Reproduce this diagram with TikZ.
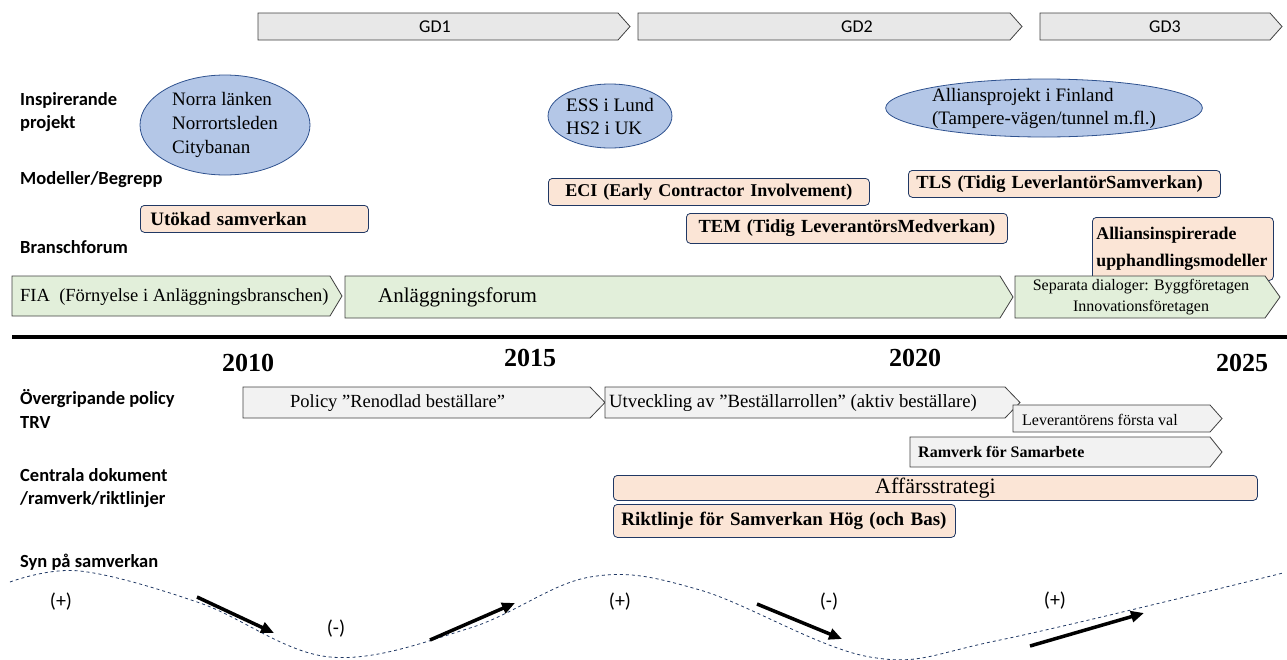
\documentclass[tikz,border=0pt]{standalone}
\usepackage{fontspec}
\setmainfont{Liberation Serif}
\newfontfamily\calibri{Carlito}
\usetikzlibrary{arrows.meta,shapes.geometric}

\definecolor{gdgray}{HTML}{E8E8E8}
\definecolor{polgray}{HTML}{F2F2F2}
\definecolor{ellblue}{HTML}{B4C7E7}
\definecolor{ellline}{HTML}{2F528F}
\definecolor{peach}{HTML}{FBE5D6}
\definecolor{mint}{HTML}{E2EFDA}
\definecolor{boxline}{HTML}{203864}
\definecolor{chevline}{HTML}{404040}

% chevron outline: x1, y1, x2, y2, tip length, fill
\newcommand{\chevbox}[6]{%
  \draw[fill=#6, draw=chevline, line width=0.8pt]
    (#1,#2) -- (#3,#2) -- (#3+#5,{(#2+#4)/2}) -- (#3,#4) -- (#1,#4) -- cycle;}

\begin{document}
\begin{tikzpicture}[x=1pt,y=-1pt,
  lbl/.style={font=\calibri\bfseries\fontsize{18.5}{23.5}\selectfont, anchor=west, align=left, inner sep=0pt},
  gdlbl/.style={font=\calibri\fontsize{18}{20}\selectfont},
  proj/.style={ellipse, draw=ellline, fill=ellblue, line width=0.8pt, inner sep=0pt,
    font=\fontsize{19}{23}\selectfont, align=left},
  model/.style={draw=boxline, fill=peach, rounded corners=4pt, line width=0.8pt,
    font=\bfseries\fontsize{18.5}{22}\selectfont, inner sep=0pt, anchor=north west},
  year/.style={font=\bfseries\fontsize{26}{28}\selectfont},
  chevtxt/.style={anchor=west, inner sep=0pt},
  sign/.style={font=\calibri\fontsize{20}{22}\selectfont},
  wave/.style={draw=boxline, dashed, line width=0.8pt},
  trend/.style={-{Triangle[length=13pt,width=11pt]}, line width=3.5pt}]
\useasboundingbox (0,0) rectangle (1287,659);

% phases
\chevbox{258}{13}{618}{40}{12}{gdgray}
\chevbox{638}{13}{1010}{40}{12}{gdgray}
\chevbox{1040}{13}{1270}{40}{12}{gdgray}
\node[gdlbl] (gd1) at (435,27) {GD1};
\node[gdlbl] (gd2) at (857,27) {GD2};
\node[gdlbl] (gd3) at (1165,27) {GD3};

% row labels
\node[lbl] (lproj) at (20,112) {Inspirerande\\projekt};
\node[lbl] (lmod) at (20,180) {Modeller/Begrepp};
\node[lbl] (lbransch) at (20,247) {Branschforum};
\node[lbl] (lpolicy) at (20,409) {Övergripande policy\\TRV};
\node[lbl] (ldok) at (20,488) {Centrala dokument\\/ramverk/riktlinjer};
\node[lbl] (lsyn) at (20,562) {Syn på samverkan};

% inspiring projects
\node[proj, minimum width=170, minimum height=100] (norra) at (225,125)
  {Norra länken\\[1pt]Norrortsleden\\[1pt]Citybanan};
\node[proj, minimum width=92, minimum height=64] (ess) at (610,116)
  {ESS i Lund\\HS2 i UK};
\node[proj, minimum width=194, minimum height=58] (allians) at (1044,108)
  {Alliansprojekt i Finland\\(Tampere-vägen/tunnel m.fl.)};

% models
\node[model, minimum width=228, minimum height=27, text width=208, align=left,
  font=\bfseries\fontsize{19}{22}\selectfont] (utokad) at (140,205) {Utökad samverkan};
\node[model, minimum width=321, minimum height=27, text width=310, align=center,
  font=\bfseries\fontsize{18}{22}\selectfont] (eci) at (548,178) {ECI (Early Contractor Involvement)};
\node[model, minimum width=321, minimum height=30, text width=310, align=center] (tem) at (686,213) {TEM (Tidig LeverantörsMedverkan)};
\node[model, minimum width=312, minimum height=27, text width=296, align=left] (tls) at (908,170) {TLS (Tidig LeverlantörSamverkan)};
\node[model, minimum width=181, minimum height=63, text width=173, align=left,
  font=\bfseries\fontsize{17.8}{27}\selectfont] (allmod) at (1092,217) {Alliansinspirerade\\upphandlingsmodeller};

% branch forums
\chevbox{12}{276}{330}{316}{12}{mint}
\chevbox{345}{276}{1000}{318}{13}{mint}
\chevbox{1015}{276}{1265}{318}{15}{mint}
\node[chevtxt, font=\fontsize{18.5}{20}\selectfont] (fia) at (20,297) {FIA\ \ (Förnyelse i Anläggningsbranschen)};
\node[chevtxt, font=\fontsize{21}{24}\selectfont] (forum) at (378,297) {Anläggningsforum};
\node[font=\fontsize{16}{21}\selectfont, align=center, inner sep=0pt] (dialog) at (1141,297)
  {Separata dialoger: Byggföretagen\\Innovationsföretagen};

% timeline
\coordinate (tl0) at (12,337);
\coordinate (tl1) at (1287,337);
\draw[line width=4pt] (tl0) -- (tl1);
\node[year] (y2010) at (248,363) {2010};
\node[year] (y2015) at (530,358) {2015};
\node[year] (y2020) at (915,358) {2020};
\node[year] (y2025) at (1242,363) {2025};

% policy
\chevbox{243}{387}{590}{418}{15}{polgray}
\chevbox{605}{387}{1005}{418}{15}{polgray}
\chevbox{1013}{405}{1210}{432}{12}{polgray}
\chevbox{910}{437}{1210}{467}{12}{polgray}
\node[chevtxt, font=\fontsize{18.5}{22}\selectfont] (renodlad) at (290,403) {Policy ”Renodlad beställare”};
\node[chevtxt, font=\fontsize{18.7}{20}\selectfont] (utveckling) at (609,403) {Utveckling av ”Beställarrollen” (aktiv beställare)};
\node[chevtxt, font=\fontsize{16}{18}\selectfont] (levval) at (1022,420) {Leverantörens första val};
\node[chevtxt, font=\bfseries\fontsize{16}{18}\selectfont] (ramverk) at (918,452) {Ramverk för Samarbete};

% documents
\node[model, minimum width=644, minimum height=25, text width=630, align=center,
  font=\fontsize{22}{24}\selectfont] (affar) at (613,475) {Affärsstrategi};
\node[model, minimum width=342, minimum height=33, text width=326, align=left,
  font=\bfseries\fontsize{19}{22}\selectfont] (riktlinje) at (613,504) {Riktlinje för Samverkan Hög (och Bas)};

% view on collaboration
\draw[wave] plot[smooth, tension=0.6] coordinates {(10,582) (80,571) (200,603) (330,657) (470,628) (590,577) (700,590) (870,657) (1000,640) (1283,573)};
\node[sign] (s1) at (61,602) {(+)};
\node[sign] (s2) at (336,629) {(-)};
\node[sign] (s3) at (620,602) {(+)};
\node[sign] (s4) at (829,602) {(-)};
\node[sign] (s5) at (1055,601) {(+)};
\coordinate (a1s) at (197,597); \coordinate (a1e) at (274,633);
\coordinate (a2s) at (430,640); \coordinate (a2e) at (515,603);
\coordinate (a3s) at (757,604); \coordinate (a3e) at (842,639);
\coordinate (a4s) at (1030,646); \coordinate (a4e) at (1144,613);
\draw[trend] (a1s) -- (a1e);
\draw[trend] (a2s) -- (a2e);
\draw[trend] (a3s) -- (a3e);
\draw[trend] (a4s) -- (a4e);
\end{tikzpicture}
\end{document}
